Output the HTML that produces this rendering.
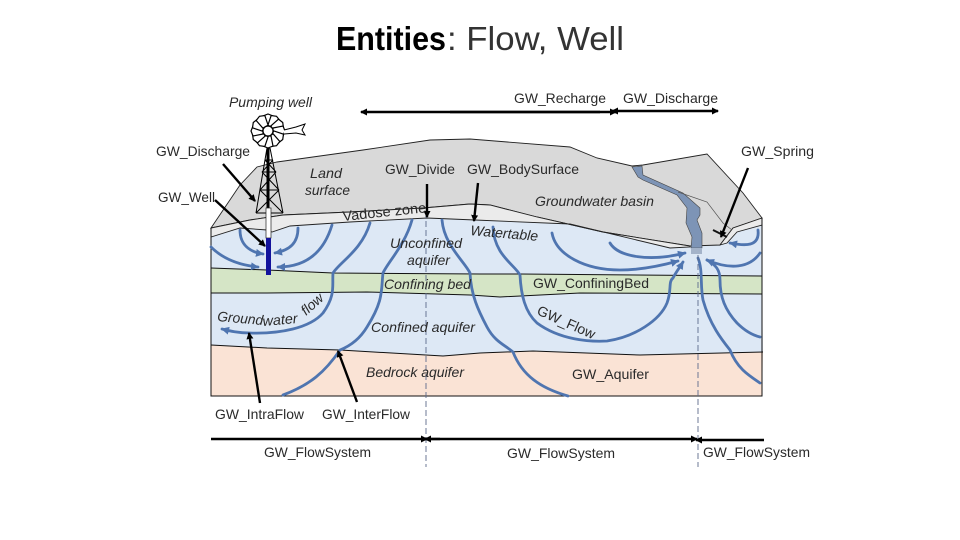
<!DOCTYPE html>
<html><head><meta charset="utf-8"><style>
html,body{margin:0;padding:0;background:#fff;width:960px;height:540px;overflow:hidden}
svg{display:block}
text{font-family:"Liberation Sans",sans-serif;font-size:14px;fill:#2a2a2a}
.i{font-style:italic}
.f{fill:none;stroke:#4f75b0;stroke-width:2.8;stroke-linecap:round;stroke-linejoin:round}
.b{fill:none;stroke:#111;stroke-width:1}
.k{stroke:#000;stroke-width:2.4;fill:none}
</style></head><body>
<svg width="960" height="540" viewBox="0 0 960 540" xmlns="http://www.w3.org/2000/svg">
<defs>
<marker id="a" markerWidth="8" markerHeight="8" refX="6" refY="3.5" orient="auto" markerUnits="userSpaceOnUse"><path d="M0,0L7,3.5L0,7z" fill="#000"/></marker>
<marker id="s" markerWidth="10" markerHeight="10" refX="7" refY="4" orient="auto" markerUnits="userSpaceOnUse"><path d="M0,0L8,4L0,8z" fill="#4f75b0"/></marker>
</defs>

<!-- title -->
<text x="336" y="50" style="font-size:33px;font-weight:bold;fill:#000" textLength="110" lengthAdjust="spacingAndGlyphs">Entities</text>
<text x="447" y="50" style="font-size:33px;fill:#333" textLength="177" lengthAdjust="spacingAndGlyphs">: Flow, Well</text>

<!-- layers -->
<path d="M211,237L240,228L267,230L272,232L290,226L350,222L427,218L475,220L570,224L670,248L690,247L720,245L733,228L762,225V276H211z" fill="#dde8f5"/>
<path d="M211,268L267,270L333,273L480,274L520,274L762,276L762,294L580,293L500,297L470,295L367,292L267,293L211,293z" fill="#d5e5c6"/>
<path d="M211,293L267,293L367,292L470,295L500,297L580,293L762,294L763,352L640,355L533,351L480,353L443,356L340,350L267,348L211,345z" fill="#dde8f5"/>
<path d="M211,345L267,348L340,350L443,356L480,353L533,351L640,355L763,352L762,396H211z" fill="#fae3d5"/>

<!-- land -->
<path d="M211,228L240,185L257,167L277,162L363,150L430,140L470,139L570,147L597,158L632,166L643,165L707,154L743,193L762,218L733,228L720,245L690,246L603,232L537,217L490,205L470,204L423,208L350,212L283,215L250,220z" fill="#d9d9d9" stroke="#222" stroke-width="0.9"/>
<path d="M211,228L250,220L283,215L350,212L423,208L470,204L490,205L537,217L603,232L690,246L690,247L670,248L570,224L475,220L427,218L350,222L290,226L272,232L267,230L240,228L211,237z" fill="#ebebeb" stroke="#222" stroke-width="0.9"/>
<path d="M762,218L733,228L720,245L727,243L737,232L762,225z" fill="#ebebeb" stroke="#222" stroke-width="0.9"/>

<!-- layer lines -->
<path class="b" d="M211,268L267,270L333,273L480,274L520,274L762,276"/>
<path class="b" d="M211,293L267,293L367,292L470,295L500,297L580,293L762,294"/>
<path class="b" d="M211,345L267,348L340,350L443,356L480,353L533,351L640,355L763,352"/>
<path d="M211,228V396H762V218" fill="none" stroke="#111" stroke-width="1"/>

<!-- river -->
<path d="M632,167L642,166L643,175L683,193L700,208L700,215L697,220L702,233L702,248L691,248L692,237L686,223L687,208L677,195L643,180L638,177z" fill="#7d94b6" stroke="#444" stroke-width="0.6"/>
<rect x="691" y="248" width="11" height="6" fill="#a4b3c9"/>
<path d="M678,192L707,202L723,223L732,230" fill="none" stroke="#555" stroke-width="0.7"/>
<path d="M713,230L727,237" stroke="#111" stroke-width="2"/>

<!-- flows -->
<path class="f" marker-end="url(#s)" d="M240,230C240,245 250,252 263,254"/>
<path class="f" marker-end="url(#s)" d="M298,228C298,243 290,250 275,253"/>
<path class="f" marker-end="url(#s)" d="M211,247C222,258 238,265 258,267"/>
<path class="f" marker-end="url(#s)" d="M332,225C325,248 310,267 278,267"/>
<path class="f" marker-end="url(#s)" d="M370,223C362,250 340,262 333,273C332,285 336,295 323,313C310,328 280,334 250,333C238,333 230,331 222,329"/>
<path class="f" d="M412,220C405,245 388,262 383,273C381,290 384,300 367,327C358,342 345,348 340,350C325,372 310,385 283,395"/>
<path class="f" d="M442,220C444,245 465,262 470,273C471,295 478,310 487,327C495,342 505,345 513,352C522,375 540,388 568,396"/>
<path class="f" marker-end="url(#s)" d="M493,227C494,255 515,265 520,275C521,295 525,312 537,323C560,340 590,342 607,341C635,337 660,320 667,303C672,290 668,282 673,278C676,272 680,267 683,262"/>
<path class="f" marker-end="url(#s)" d="M552,233C556,255 585,270 620,270C640,270 660,266 678,261"/>
<path class="f" marker-end="url(#s)" d="M610,243C618,257 650,262 685,253"/>
<path class="f" marker-end="url(#s)" d="M758,230C760,247 745,246 730,243"/>
<path class="f" marker-end="url(#s)" d="M760,253C750,268 730,270 707,260"/>
<path class="f" d="M707,260C716,265 720,270 720,280C720,297 725,310 737,323C745,331 752,335 760,337"/>
<path class="f" d="M698,258C703,270 700,285 703,300C710,325 722,340 730,350C737,368 748,375 760,383"/>

<!-- dashed -->
<path d="M426,212V467" stroke="#5d6b8c" stroke-width="0.9" stroke-dasharray="6 3" fill="none"/>
<path d="M698,255V467" stroke="#5d6b8c" stroke-width="0.9" stroke-dasharray="6 3" fill="none"/>

<!-- well + windmill -->
<g fill="none" stroke="#000" stroke-width="1">
<path d="M267,148L256,213M270,148L283,213M256,213L283,213M260,190L279,190M262,172L276,172M265,160L273,160M256,213L279,190M283,213L260,190M260,190L276,172M279,190L262,172M262,172L273,160M276,172L265,160"/>
<g transform="translate(268,131)" fill="#fff" stroke-width="1.2">
<path d="M-3,-5L-5,-15L0,-17L5,-15L3,-5z"/>
<path d="M-3,-5L-5,-15L0,-17L5,-15L3,-5z" transform="rotate(30)"/>
<path d="M-3,-5L-5,-15L0,-17L5,-15L3,-5z" transform="rotate(60)"/>
<path d="M-3,-5L-5,-15L0,-17L5,-15L3,-5z" transform="rotate(90)"/>
<path d="M-3,-5L-5,-15L0,-17L5,-15L3,-5z" transform="rotate(120)"/>
<path d="M-3,-5L-5,-15L0,-17L5,-15L3,-5z" transform="rotate(150)"/>
<path d="M-3,-5L-5,-15L0,-17L5,-15L3,-5z" transform="rotate(180)"/>
<path d="M-3,-5L-5,-15L0,-17L5,-15L3,-5z" transform="rotate(210)"/>
<path d="M-3,-5L-5,-15L0,-17L5,-15L3,-5z" transform="rotate(240)"/>
<path d="M-3,-5L-5,-15L0,-17L5,-15L3,-5z" transform="rotate(270)"/>
<path d="M-3,-5L-5,-15L0,-17L5,-15L3,-5z" transform="rotate(300)"/>
<path d="M-3,-5L-5,-15L0,-17L5,-15L3,-5z" transform="rotate(330)"/>
<circle r="5"/>
</g>
<path d="M284,130L296,127L305,124L302,130L305,135L296,133L284,134" fill="#fff"/>
</g>
<path d="M268,148V208" stroke="#000" stroke-width="3"/>
<rect x="266" y="208" width="5" height="30" fill="#fff" stroke="#222" stroke-width="0.7"/>
<rect x="266" y="238" width="5" height="37" fill="#12129c"/>

<!-- black arrows -->
<path class="k" marker-end="url(#a)" d="M600,112H361"/>
<path class="k" marker-end="url(#a)" d="M450,112H616"/>
<path class="k" marker-end="url(#a)" d="M640,111H612"/>
<path class="k" marker-end="url(#a)" d="M640,111H718"/>
<path class="k" marker-end="url(#a)" d="M223,164L255,201"/>
<path class="k" marker-end="url(#a)" d="M215,200L265,246"/>
<path class="k" marker-end="url(#a)" d="M427,184V217"/>
<path class="k" marker-end="url(#a)" d="M478,183L474,221"/>
<path class="k" marker-end="url(#a)" d="M748,168L721,237"/>
<path class="k" marker-end="url(#a)" d="M260,403L249,333"/>
<path class="k" marker-end="url(#a)" d="M357,402L338,351"/>
<path class="k" marker-end="url(#a)" d="M211,439H427"/>
<path class="k" marker-end="url(#a)" d="M440,439H425"/>
<path class="k" marker-end="url(#a)" d="M430,439H697"/>
<path class="k" marker-end="url(#a)" d="M764,440H696"/>

<!-- labels -->
<text class="i" x="229" y="107" textLength="83" lengthAdjust="spacingAndGlyphs">Pumping well</text>
<text x="514" y="103" textLength="92" lengthAdjust="spacingAndGlyphs">GW_Recharge</text>
<text x="623" y="103" textLength="95" lengthAdjust="spacingAndGlyphs">GW_Discharge</text>
<text x="156" y="156" textLength="94" lengthAdjust="spacingAndGlyphs">GW_Discharge</text>
<text x="741" y="156" textLength="73" lengthAdjust="spacingAndGlyphs">GW_Spring</text>
<text x="158" y="202" textLength="57" lengthAdjust="spacingAndGlyphs">GW_Well</text>
<text class="i" x="310" y="178" textLength="32" lengthAdjust="spacingAndGlyphs">Land</text>
<text class="i" x="305" y="195" textLength="45" lengthAdjust="spacingAndGlyphs">surface</text>
<text x="385" y="174" textLength="70" lengthAdjust="spacingAndGlyphs">GW_Divide</text>
<text x="467" y="174" textLength="112" lengthAdjust="spacingAndGlyphs">GW_BodySurface</text>
<text class="i" x="535" y="206" textLength="119" lengthAdjust="spacingAndGlyphs">Groundwater basin</text>
<text transform="translate(343,221) rotate(-6)" textLength="84" lengthAdjust="spacingAndGlyphs">Vadose zone</text>
<text class="i" transform="translate(470,235) rotate(5)" textLength="68" lengthAdjust="spacingAndGlyphs">Watertable</text>
<text class="i" x="390" y="248" textLength="72" lengthAdjust="spacingAndGlyphs">Unconfined</text>
<text class="i" x="407" y="265" textLength="43" lengthAdjust="spacingAndGlyphs">aquifer</text>
<text class="i" x="384" y="289" textLength="87" lengthAdjust="spacingAndGlyphs">Confining bed</text>
<text x="533" y="288" textLength="116" lengthAdjust="spacingAndGlyphs">GW_ConfiningBed</text>
<text class="i" transform="translate(217,321) rotate(5)" textLength="46" lengthAdjust="spacingAndGlyphs">Ground</text>
<text class="i" transform="translate(263,326) rotate(-5)" textLength="35" lengthAdjust="spacingAndGlyphs">water</text>
<text class="i" transform="translate(306,316) rotate(-42)" textLength="25" lengthAdjust="spacingAndGlyphs">flow</text>
<text class="i" x="371" y="332" textLength="104" lengthAdjust="spacingAndGlyphs">Confined aquifer</text>
<text transform="translate(536,314) rotate(24)" textLength="62" lengthAdjust="spacingAndGlyphs">GW_Flow</text>
<text class="i" x="366" y="377" textLength="98" lengthAdjust="spacingAndGlyphs">Bedrock aquifer</text>
<text x="572" y="379" textLength="77" lengthAdjust="spacingAndGlyphs">GW_Aquifer</text>
<text x="215" y="419" textLength="89" lengthAdjust="spacingAndGlyphs">GW_IntraFlow</text>
<text x="322" y="419" textLength="88" lengthAdjust="spacingAndGlyphs">GW_InterFlow</text>
<text x="264" y="457" textLength="107" lengthAdjust="spacingAndGlyphs">GW_FlowSystem</text>
<text x="507" y="458" textLength="108" lengthAdjust="spacingAndGlyphs">GW_FlowSystem</text>
<text x="703" y="457" textLength="107" lengthAdjust="spacingAndGlyphs">GW_FlowSystem</text>
</svg>
</body></html>
